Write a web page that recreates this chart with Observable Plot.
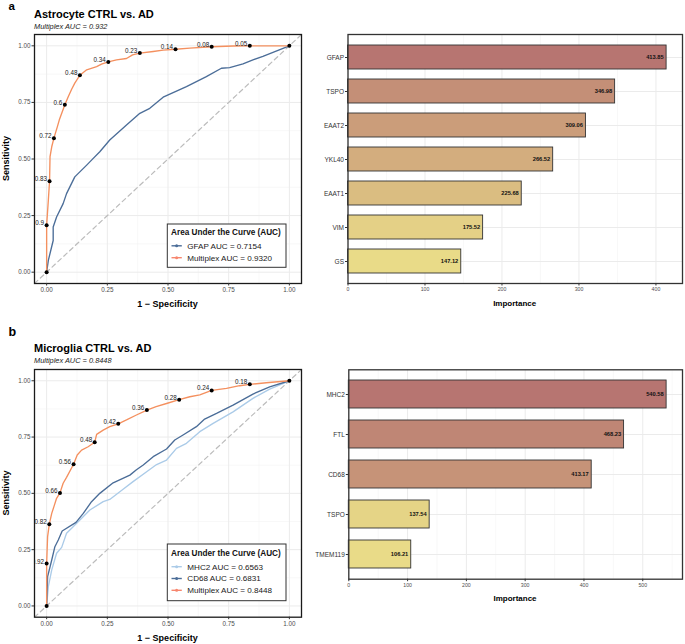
<!DOCTYPE html>
<html>
<head>
<meta charset="utf-8">
<script src="https://cdn.jsdelivr.net/npm/d3@7"></script>
<script src="https://cdn.jsdelivr.net/npm/@observablehq/plot@0.6"></script>
<style>
  html, body { margin: 0; padding: 0; background: #fff; }
  #wrap { position: relative; width: 685px; height: 644px; background: #fff; font-family: "Liberation Sans", Arial, sans-serif; }
  .pane { position: absolute; }
  #overlay { position: absolute; left: 0; top: 0; pointer-events: none; }
</style>
</head>
<body>
<div id="wrap">
  <div class="pane" id="rocA" style="left:0;top:30px"></div>
  <div class="pane" id="barA" style="left:300px;top:30px"></div>
  <div class="pane" id="rocB" style="left:0;top:365px"></div>
  <div class="pane" id="barB" style="left:300px;top:365px"></div>
  <svg id="overlay" width="685" height="644"></svg>
</div>
<script>
// ---------------- DATA ----------------
// Panel a: Astrocyte ROC curves [1 - specificity, sensitivity]
const astroGfapRoc = [[0,0],[0.007,0.052],[0.027,0.14],[0.027,0.2],[0.041,0.244],[0.068,0.303],[0.082,0.347],[0.116,0.421],[0.165,0.473],[0.185,0.495],[0.219,0.532],[0.26,0.584],[0.329,0.65],[0.384,0.702],[0.425,0.724],[0.48,0.773],[0.576,0.82],[0.658,0.864],[0.72,0.901],[0.754,0.904],[0.809,0.92],[0.85,0.938],[0.891,0.953],[1,1]];
const astroMultiplexRoc = [[0,0],[0,0.096],[0,0.207],[0.007,0.318],[0.012,0.402],[0.014,0.51],[0.021,0.554],[0.03,0.592],[0.044,0.642],[0.052,0.672],[0.075,0.74],[0.089,0.775],[0.103,0.808],[0.116,0.835],[0.137,0.87],[0.165,0.894],[0.206,0.908],[0.226,0.919],[0.254,0.929],[0.288,0.938],[0.329,0.944],[0.354,0.96],[0.384,0.968],[0.439,0.975],[0.48,0.981],[0.531,0.985],[0.59,0.99],[0.68,0.996],[0.768,0.999],[0.837,1],[1,1]];
const astroThrFpr = [0, 0, 0.012, 0.03, 0.075, 0.137, 0.254, 0.384, 0.531, 0.68, 0.837, 1];
const astroThrTpr = [0, 0.207, 0.402, 0.592, 0.74, 0.87, 0.929, 0.968, 0.985, 0.996, 1, 1];
const astroThrLabels = ["", "0.9", "0.83", "0.72", "0.6", "0.48", "0.34", "0.23", "0.14", "0.08", "0.05", ""];
const astroLegend = ["GFAP AUC = 0.7154", "Multiplex AUC = 0.9320"];

// Panel a: Astrocyte importance
const astroMarkers = ["GFAP", "TSPO", "EAAT2", "YKL40", "EAAT1", "VIM", "GS"];
const astroImportance = [413.85, 346.98, 309.06, 266.52, 225.68, 175.52, 147.12];

// Panel b: Microglia ROC curves
const microMhc2Roc = [[0,0],[0.007,0.086],[0.021,0.16],[0.041,0.234],[0.062,0.26],[0.082,0.323],[0.103,0.345],[0.137,0.382],[0.178,0.426],[0.233,0.463],[0.26,0.473],[0.315,0.518],[0.356,0.552],[0.412,0.596],[0.453,0.628],[0.494,0.648],[0.535,0.7],[0.576,0.722],[0.631,0.774],[0.686,0.811],[0.768,0.862],[0.85,0.922],[0.919,0.963],[1,1]];
const microCd68Roc = [[0,0],[0.004,0.13],[0.021,0.204],[0.034,0.263],[0.048,0.293],[0.064,0.333],[0.121,0.371],[0.151,0.411],[0.185,0.463],[0.219,0.5],[0.274,0.547],[0.343,0.581],[0.37,0.605],[0.398,0.626],[0.439,0.663],[0.494,0.697],[0.528,0.737],[0.562,0.759],[0.617,0.796],[0.651,0.83],[0.7,0.855],[0.768,0.892],[0.85,0.941],[0.919,0.973],[1,1]];
const microMultiplexRoc = [[0,0],[0,0.188],[0.004,0.308],[0.011,0.363],[0.021,0.411],[0.03,0.441],[0.041,0.478],[0.055,0.502],[0.068,0.545],[0.082,0.571],[0.111,0.629],[0.126,0.67],[0.144,0.692],[0.171,0.707],[0.198,0.727],[0.206,0.762],[0.233,0.781],[0.26,0.796],[0.295,0.809],[0.329,0.826],[0.37,0.848],[0.413,0.87],[0.451,0.885],[0.494,0.899],[0.546,0.916],[0.59,0.929],[0.631,0.937],[0.68,0.957],[0.741,0.966],[0.795,0.978],[0.837,0.984],[0.905,0.991],[1,1]];
const microThrFpr = [0, 0, 0.011, 0.055, 0.111, 0.198, 0.295, 0.413, 0.546, 0.68, 0.837, 1];
const microThrTpr = [0, 0.188, 0.363, 0.502, 0.629, 0.727, 0.809, 0.87, 0.916, 0.957, 0.984, 1];
const microThrLabels = ["", "0.92", "0.82", "0.66", "0.56", "0.48", "0.42", "0.36", "0.28", "0.24", "0.18", ""];
const microLegend = ["MHC2 AUC = 0.6563", "CD68 AUC = 0.6831", "Multiplex AUC = 0.8448"];

// Panel b: Microglia importance
const microMarkers = ["MHC2", "FTL", "CD68", "TSPO", "TMEM119"];
const microImportance = [540.58, 468.23, 413.17, 137.54, 106.21];

// Tick values
const rocTicks = [0, 0.25, 0.5, 0.75, 1];
const rocMinor = [0.125, 0.375, 0.625, 0.875];
const astroTicks = [0, 100, 200, 300, 400];
const astroMinor = [50, 150, 250, 350];
const microTicks = [0, 100, 200, 300, 400, 500];
const microMinor = [50, 150, 250, 350, 450, 550];

// ---------------- STYLE ----------------
const FONT = "Liberation Sans, Arial, Helvetica, sans-serif";
const C_MULTI = "#f4905f", C_DARK = "#4b6d98", C_LIGHT = "#abcbe8";
const GRID = "#ebebeb", GRID_MINOR = "#f3f3f3";

function rocPlot(curves, thrFpr, thrTpr, thrLabels, height, marginBottom) {
  const thr = thrFpr.map((x, i) => ({x, y: thrTpr[i], label: thrLabels[i]}));
  const f = d3.format(".2f");
  return Plot.plot({
    width: 305, height,
    marginLeft: 34, marginRight: 4, marginTop: 4, marginBottom,
    x: {domain: [-0.05, 1.05], label: null},
    y: {domain: [-0.05, 1.05], label: null},
    style: {fontFamily: FONT, fontSize: "6.3px", color: "#4d4d4d", background: "transparent", overflow: "visible"},
    marks: [
      Plot.gridX(rocMinor, {stroke: GRID_MINOR, strokeOpacity: 1, strokeWidth: 0.6}),
      Plot.gridY(rocMinor, {stroke: GRID_MINOR, strokeOpacity: 1, strokeWidth: 0.6}),
      Plot.gridX(rocTicks, {stroke: GRID, strokeOpacity: 1, strokeWidth: 1}),
      Plot.gridY(rocTicks, {stroke: GRID, strokeOpacity: 1, strokeWidth: 1}),
      Plot.line([[-0.05, -0.05], [1.05, 1.05]], {x: d => d[0], y: d => d[1], stroke: "#bcbcbc", strokeWidth: 1.2, strokeDasharray: "4.5,3.5", clip: true}),
      ...curves.map(c => Plot.line(c.data, {x: d => d[0], y: d => d[1], stroke: c.color, strokeWidth: 1.35, clip: true})),
      Plot.dot(thr, {x: "x", y: "y", r: 2, fill: "#000", stroke: null}),
      Plot.text(thr, {x: "x", y: "y", text: "label", dx: -2.5, dy: -2, textAnchor: "end", fontSize: 6.3, fill: "#222", clip: true}),
      Plot.frame({stroke: "#1a1a1a", strokeWidth: 1.3}),
      Plot.axisX({ticks: rocTicks, tickFormat: f, tickSize: 2.5, tickPadding: 1.5, fontSize: 6.3, stroke: "#333", label: null}),
      Plot.axisY({ticks: rocTicks, tickFormat: f, tickSize: 2.5, tickPadding: 1.5, fontSize: 6.3, stroke: "#333", label: null})
    ]
  });
}

function barPlot(markers, values, xMax, ticks, minor, height, marginLeft, marginTop, marginBottom) {
  const data = markers.map((name, i) => ({name, value: values[i]}));
  const f = d3.format(".2f");
  return Plot.plot({
    width: 385, height,
    marginLeft, marginRight: 3, marginTop, marginBottom,
    x: {domain: [0, xMax], label: null},
    y: {domain: markers, paddingInner: 0.3, paddingOuter: 0.25, label: null},
    color: {type: "linear", domain: d3.extent(values), range: ["#e9db88", "#b77571"], interpolate: "rgb"},
    style: {fontFamily: FONT, fontSize: "6px", color: "#4d4d4d", background: "transparent", overflow: "visible"},
    marks: [
      Plot.gridX(minor, {stroke: GRID_MINOR, strokeOpacity: 1, strokeWidth: 0.6}),
      Plot.gridX(ticks, {stroke: GRID, strokeOpacity: 1, strokeWidth: 1}),
      Plot.gridY(markers, {stroke: GRID, strokeOpacity: 1, strokeWidth: 1}),
      Plot.barX(data, {y: "name", x: "value", fill: "value", stroke: "#333", strokeWidth: 0.9}),
      Plot.text(data, {y: "name", x: "value", text: d => f(d.value), dx: -3, textAnchor: "end", fontSize: 5.7, fontWeight: "bold", fill: "#111"}),
      Plot.frame({stroke: "#333", strokeWidth: 1.3}),
      Plot.axisX({ticks, tickSize: 2.5, tickPadding: 1.5, fontSize: 5.2, stroke: "#333", label: null}),
      Plot.axisY({tickSize: 2.5, tickPadding: 1.5, fontSize: 6.5, fill: "#333", stroke: "#333", label: null})
    ]
  });
}

document.getElementById("rocA").append(rocPlot(
  [{data: astroGfapRoc, color: C_DARK}, {data: astroMultiplexRoc, color: C_MULTI}],
  astroThrFpr, astroThrTpr, astroThrLabels, 270, 17));
document.getElementById("rocB").append(rocPlot(
  [{data: microMhc2Roc, color: C_LIGHT}, {data: microCd68Roc, color: C_DARK}, {data: microMultiplexRoc, color: C_MULTI}],
  microThrFpr, microThrTpr, microThrLabels, 265, 13.3));
document.getElementById("barA").append(barPlot(astroMarkers, astroImportance, 434.5, astroTicks, astroMinor, 270, 47.5, 4, 17));
document.getElementById("barB").append(barPlot(microMarkers, microImportance, 567.6, microTicks, microMinor, 230, 48.3, 4.3, 16.3));

// ---------------- TEXT & LEGENDS (overlay) ----------------
const svg = d3.select("#overlay").style("font-family", FONT);
function txt(x, y, s, o = {}) {
  const t = svg.append("text").attr("x", x).attr("y", y).text(s)
    .attr("font-size", o.size || 8).attr("fill", o.fill || "#000")
    .attr("font-weight", o.weight || "normal").attr("font-style", o.style || "normal")
    .attr("text-anchor", o.anchor || "start");
  if (o.rotate) t.attr("transform", `rotate(${o.rotate},${x},${y})`);
  return t;
}
function legend(x, y, w, h, titleY, rowsY, labels, colors) {
  svg.append("rect").attr("x", x).attr("y", y).attr("width", w).attr("height", h)
    .attr("fill", "#fff").attr("stroke", "#333").attr("stroke-width", 1);
  txt(x + 3.8, titleY, "Area Under the Curve (AUC)", {size: 8.2, weight: "bold", fill: "#111"});
  labels.forEach((s, i) => {
    const cy = rowsY[i] - 2.9;
    svg.append("line").attr("x1", x + 4.2).attr("x2", x + 14.5).attr("y1", cy).attr("y2", cy)
      .attr("stroke", colors[i]).attr("stroke-width", 1.4);
    svg.append("circle").attr("cx", x + 9.35).attr("cy", cy).attr("r", 1.5).attr("fill", colors[i]);
    txt(x + 20, rowsY[i], s, {size: 8.1, fill: "#1a1a1a"});
  });
}

// Panel a
txt(8.5, 10.4, "a", {size: 11.5, weight: "bold"});
txt(34, 17.9, "Astrocyte CTRL vs. AD", {size: 11, weight: "bold"});
txt(34, 29.3, "Multiplex AUC = 0.932", {size: 7.4, style: "italic", fill: "#222"});
txt(8.6, 158.5, "Sensitivity", {size: 9, weight: "bold", anchor: "middle", rotate: -90});
txt(167.5, 307.3, "1 \u2212 Specificity", {size: 9, weight: "bold", anchor: "middle"});
txt(514.7, 305.5, "Importance", {size: 8, weight: "bold", anchor: "middle"});
legend(167.3, 224, 118.7, 43.3, 234.6, [248.7, 260.6], astroLegend, [C_DARK, "#f7866e"]);

// Panel b
txt(8.5, 335.6, "b", {size: 12.5, weight: "bold"});
txt(34, 351.7, "Microglia CTRL vs. AD", {size: 11, weight: "bold"});
txt(34, 363.3, "Multiplex AUC = 0.8448", {size: 7.4, style: "italic", fill: "#222"});
txt(8.6, 493, "Sensitivity", {size: 9, weight: "bold", anchor: "middle", rotate: -90});
txt(167.5, 641.3, "1 \u2212 Specificity", {size: 9, weight: "bold", anchor: "middle"});
txt(515, 601.3, "Importance", {size: 8, weight: "bold", anchor: "middle"});
legend(167.3, 544, 118.7, 56.7, 555.8, [569.6, 581.4, 593.2], microLegend, [C_LIGHT, C_DARK, "#f7866e"]);
</script>
</body>
</html>
